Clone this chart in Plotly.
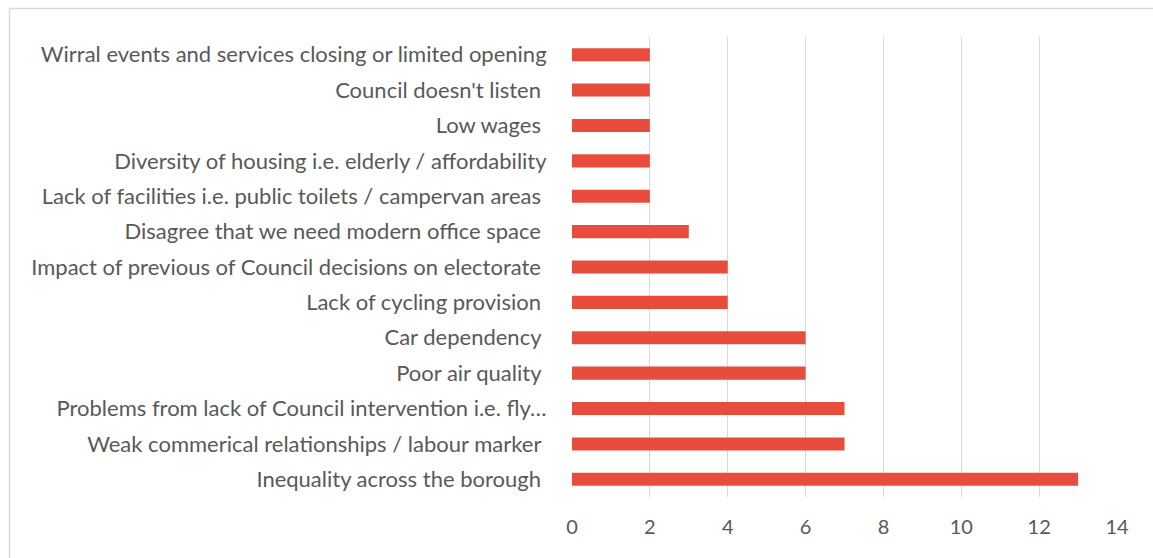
import plotly.graph_objects as go

categories = [
    "Wirral events and services closing or limited opening",
    "Council doesn't listen ",
    "Low wages ",
    "Diversity of housing i.e. elderly / affordability",
    "Lack of facilities i.e. public toilets / campervan areas ",
    "Disagree that we need modern office space ",
    "Impact of previous of Council decisions on electorate ",
    "Lack of cycling provision ",
    "Car dependency ",
    "Poor air quality ",
    "Problems from lack of Council intervention i.e. fly…",
    "Weak commerical relationships / labour marker ",
    "Inequality across the borough ",
]
values = [2, 2, 2, 2, 2, 3, 4, 4, 6, 6, 7, 7, 13]
x_ticks = [0, 2, 4, 6, 8, 10, 12, 14]

fig = go.Figure(go.Bar(
    x=values, y=categories, orientation="h",
    marker=dict(color="#E84C3D", line=dict(width=0)),
    hoverinfo="x+y",
))

font = dict(family="Lato, 'Open Sans', sans-serif", size=22, color="#595959")
xfont = dict(family="Lato, 'Open Sans', sans-serif", size=20, color="#595959")

fig.update_layout(
    width=1153, height=558,
    margin=dict(l=572, r=36, t=37, b=61),
    paper_bgcolor="white", plot_bgcolor="white",
    bargap=0.63,
    showlegend=False,
    font=font,
    xaxis=dict(
        range=[0, 14], tickvals=x_ticks, ticktext=[str(t) for t in x_ticks],
        showgrid=True, gridcolor="#D9D9D9", gridwidth=1,
        zeroline=False, showline=False,
        ticks="outside", ticklen=12, tickcolor="rgba(0,0,0,0)",
        tickfont=xfont, fixedrange=True,
    ),
    yaxis=dict(
        autorange="reversed", showgrid=False, zeroline=False, showline=False,
        ticks="outside", ticklen=20, tickcolor="rgba(0,0,0,0)",
        tickfont=font, fixedrange=True,
    ),
    shapes=[dict(
        type="rect", xref="paper", yref="paper",
        x0=(9.5 - 572) / 545, x1=(1170 - 572) / 545,
        y0=(497 - 580) / 460, y1=(497 - 8.5) / 460,
        line=dict(color="#D9D9D9", width=1.5), fillcolor="rgba(0,0,0,0)",
        layer="below",
    )],
)

fig.write_html("out.html")
